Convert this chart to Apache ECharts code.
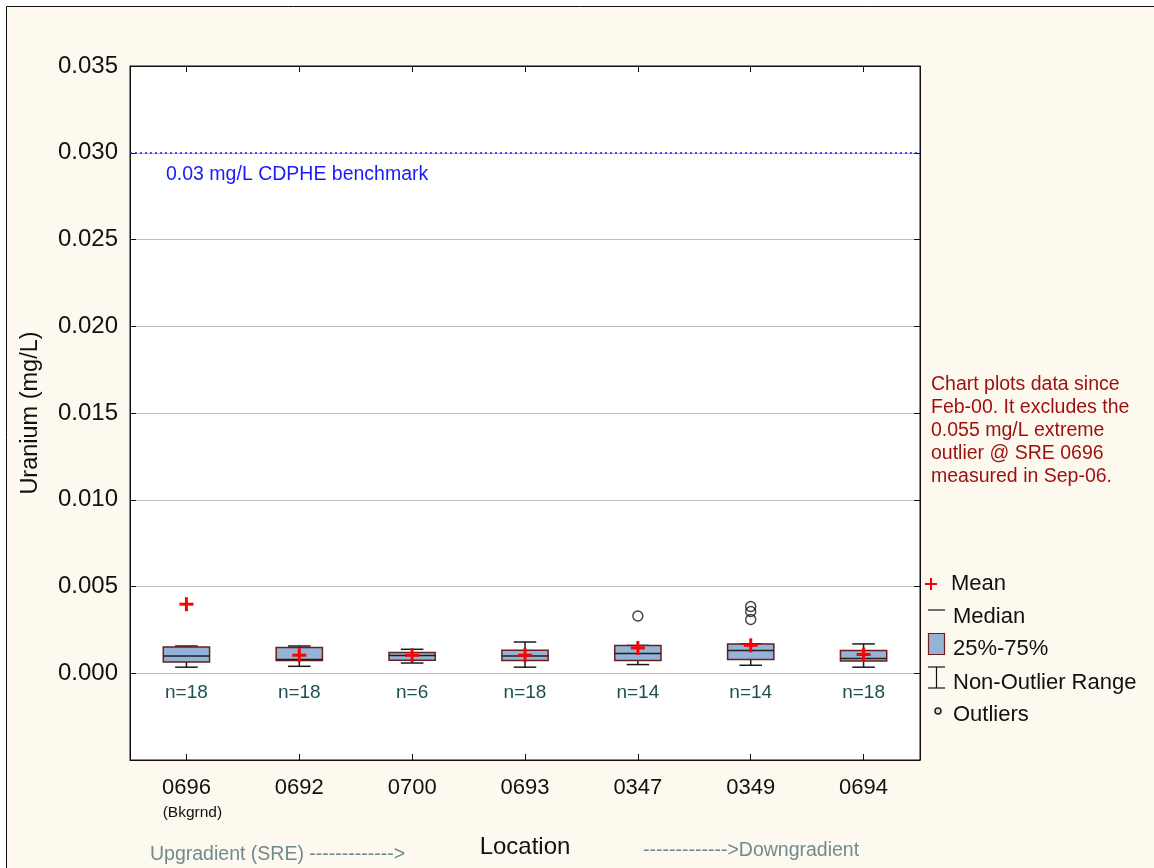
<!DOCTYPE html>
<html>
<head>
<meta charset="utf-8">
<script src="https://cdn.jsdelivr.net/npm/echarts@6/dist/echarts.min.js"></script>
<style>
  html, body { margin: 0; padding: 0; background: #ffffff; }
  #chart { width: 1154px; height: 868px; }
</style>
</head>
<body>
<div id="chart"></div>
<script>
// Uranium concentrations by monitoring location (mg/L)
const locations    = ['0696', '0692', '0700', '0693', '0347', '0349', '0694'];
const sampleCounts = [18, 18, 6, 18, 14, 14, 18];
const whiskerLow   = [0.00035, 0.00040, 0.00059, 0.00035, 0.00050, 0.00046, 0.00035];
const quartile1    = [0.00065, 0.00073, 0.00075, 0.00073, 0.00073, 0.00079, 0.00071];
const medians      = [0.00100, 0.00079, 0.00102, 0.00100, 0.00114, 0.00131, 0.00085];
const quartile3    = [0.00152, 0.00148, 0.00119, 0.00133, 0.00160, 0.00169, 0.00131];
const whiskerHigh  = [0.00157, 0.00157, 0.00138, 0.00180, 0.00160, 0.00169, 0.00169];
const means        = [0.00398, 0.00104, 0.00104, 0.00104, 0.00146, 0.00161, 0.00108];
// outliers: [location index, value]
const outliers     = [[4, 0.00330], [5, 0.00385], [5, 0.00356], [5, 0.00310]];
const benchmark    = 0.03;
const yTicks       = { min: -0.005, max: 0.035, step: 0.005 };

const FONT = '"Liberation Sans", Arial, sans-serif';

const boxData = locations.map((_, i) =>
  [i, whiskerLow[i], quartile1[i], medians[i], quartile3[i], whiskerHigh[i]]);
const meanData = means.map((v, i) => [i, v]);
const countData = sampleCounts.map((n, i) => [i, -0.00115, n]);

function renderBox(params, api) {
  const i = api.value(0);
  const x = api.coord([i, 0])[0];
  const yLo = api.coord([i, api.value(1)])[1];
  const yQ1 = api.coord([i, api.value(2)])[1];
  const yMed = api.coord([i, api.value(3)])[1];
  const yQ3 = api.coord([i, api.value(4)])[1];
  const yHi = api.coord([i, api.value(5)])[1];
  const band = api.size([1, 0])[0];
  const hw = band * 0.205;
  const cw = band * 0.1;
  const wStyle = { stroke: '#1a1a1a', lineWidth: 1.5 };
  return {
    type: 'group',
    children: [
      { type: 'line', shape: { x1: x, y1: yHi, x2: x, y2: yLo }, style: wStyle },
      { type: 'line', shape: { x1: x - cw, y1: yHi, x2: x + cw, y2: yHi }, style: wStyle },
      { type: 'line', shape: { x1: x - cw, y1: yLo, x2: x + cw, y2: yLo }, style: wStyle },
      { type: 'rect', shape: { x: x - hw, y: yQ3, width: hw * 2, height: yQ1 - yQ3 },
        style: { fill: '#95b3d7', stroke: '#6b1e1e', lineWidth: 1.5 } },
      { type: 'line', shape: { x1: x - hw, y1: yMed, x2: x + hw, y2: yMed },
        style: { stroke: '#1f1f1f', lineWidth: 1.5 } }
    ]
  };
}

function renderMean(params, api) {
  const p = api.coord([api.value(0), api.value(1)]);
  const s = 7;
  const st = { stroke: '#ff0000', lineWidth: 3 };
  return {
    type: 'group',
    children: [
      { type: 'line', shape: { x1: p[0] - s, y1: p[1], x2: p[0] + s, y2: p[1] }, style: st },
      { type: 'line', shape: { x1: p[0], y1: p[1] - s, x2: p[0], y2: p[1] + s }, style: st }
    ]
  };
}

function renderCount(params, api) {
  const p = api.coord([api.value(0), api.value(1)]);
  return {
    type: 'text',
    x: p[0], y: p[1],
    style: { text: 'n=' + api.value(2), fill: '#1e4f50', font: '19px ' + FONT,
             align: 'center', verticalAlign: 'middle' }
  };
}

const chart = echarts.init(document.getElementById('chart'), null, { renderer: 'canvas' });

const legendX = 928;
const legendTextX = 953;
const legendFont = '22px ' + FONT;

chart.setOption({
  backgroundColor: '#ffffff',
  animation: false,
  graphic: [
    { type: 'rect', z: -10, shape: { x: 6.5, y: 6.5, width: 1300, height: 1000 },
      style: { fill: '#fdf9ef', stroke: '#111', lineWidth: 1 } },
    // note beside the plot
    { type: 'text', left: 931, top: 373,
      style: { text: 'Chart plots data since\nFeb-00. It excludes the\n0.055 mg/L extreme\noutlier @ SRE 0696\nmeasured in Sep-06.',
               fill: '#9c0f0f', font: '19.5px ' + FONT, lineHeight: 23 } },
    // key
    { type: 'group', children: [
      { type: 'line', shape: { x1: legendX - 3, y1: 584, x2: legendX + 9, y2: 584 }, style: { stroke: '#ff0000', lineWidth: 2 } },
      { type: 'line', shape: { x1: legendX + 3, y1: 578, x2: legendX + 3, y2: 590 }, style: { stroke: '#ff0000', lineWidth: 2 } },
      { type: 'text', x: legendTextX - 2, y: 584, style: { text: 'Mean', fill: '#111', font: legendFont, verticalAlign: 'middle' } },
      { type: 'line', shape: { x1: legendX, y1: 610, x2: legendX + 17, y2: 610 }, style: { stroke: '#111', lineWidth: 1.2 } },
      { type: 'text', x: legendTextX, y: 617, style: { text: 'Median', fill: '#111', font: legendFont, verticalAlign: 'middle' } },
      { type: 'rect', shape: { x: legendX + 0.5, y: 633.5, width: 16, height: 21 }, style: { fill: '#95b3d7', stroke: '#6b1e1e', lineWidth: 1.2 } },
      { type: 'text', x: legendTextX, y: 649, style: { text: '25%-75%', fill: '#111', font: legendFont, verticalAlign: 'middle' } },
      { type: 'line', shape: { x1: legendX, y1: 667, x2: legendX + 17, y2: 667 }, style: { stroke: '#111', lineWidth: 1.2 } },
      { type: 'line', shape: { x1: legendX, y1: 688, x2: legendX + 17, y2: 688 }, style: { stroke: '#111', lineWidth: 1.2 } },
      { type: 'line', shape: { x1: legendX + 8.5, y1: 667, x2: legendX + 8.5, y2: 688 }, style: { stroke: '#111', lineWidth: 1.2 } },
      { type: 'text', x: legendTextX, y: 683, style: { text: 'Non-Outlier Range', fill: '#111', font: legendFont, verticalAlign: 'middle' } },
      { type: 'circle', shape: { cx: legendX + 10, cy: 711, r: 3 }, style: { fill: '#ddd', stroke: '#222', lineWidth: 1.5 } },
      { type: 'text', x: legendTextX, y: 715, style: { text: 'Outliers', fill: '#111', font: legendFont, verticalAlign: 'middle' } }
    ]},
    // gradient direction notes
    { type: 'text', left: 150, top: 845,
      style: { text: 'Upgradient (SRE) ------------->', fill: '#6f8b90', font: '19.5px ' + FONT } },
    { type: 'text', left: 643, top: 841,
      style: { text: '------------->Downgradient', fill: '#6f8b90', font: '19.5px ' + FONT } }
  ],
  grid: {
    left: 130, right: 234, top: 66, bottom: 108,
    show: true, backgroundColor: '#ffffff', borderColor: '#111', borderWidth: 1
  },
  xAxis: [
    {
      type: 'category', data: locations, position: 'bottom',
      boundaryGap: true,
      axisLine: { show: true, onZero: false, lineStyle: { color: '#111' } },
      axisTick: { show: true, inside: true, alignWithLabel: true, length: 6, lineStyle: { color: '#111' } },
      axisLabel: {
        margin: 14,
        formatter: (v, i) => i === 0 ? '{a|' + v + '}\n{b|(Bkgrnd)}' : '{a|' + v + '}',
        rich: {
          a: { fontFamily: FONT, fontSize: 22, color: '#111', lineHeight: 28 },
          b: { fontFamily: FONT, fontSize: 15.5, color: '#111', lineHeight: 22, padding: [0, 0, 0, 12] }
        }
      },
      name: 'Location', nameLocation: 'middle', nameGap: 75,
      nameTextStyle: { fontFamily: FONT, fontSize: 24, color: '#111' },
      splitLine: { show: false }
    },
    {
      type: 'category', data: locations, position: 'top',
      boundaryGap: true,
      axisLine: { show: true, onZero: false, lineStyle: { color: '#111' } },
      axisTick: { show: true, inside: true, alignWithLabel: true, length: 6, lineStyle: { color: '#111' } },
      axisLabel: { show: false },
      splitLine: { show: false }
    }
  ],
  yAxis: [
    {
      type: 'value', min: yTicks.min, max: yTicks.max, interval: yTicks.step,
      axisLine: { show: true, lineStyle: { color: '#111' } },
      axisTick: { show: true, inside: true, length: 6, lineStyle: { color: '#111' } },
      axisLabel: { formatter: v => v.toFixed(3), showMinLabel: false,
                   fontFamily: FONT, fontSize: 24, color: '#111', margin: 12 },
      splitLine: { show: true, lineStyle: { color: '#bfbfbf', width: 1 } },
      name: 'Uranium (mg/L)', nameLocation: 'middle', nameGap: 87, nameRotate: 90,
      nameTextStyle: { fontFamily: FONT, fontSize: 23.5, color: '#111' }
    },
    {
      type: 'value', min: yTicks.min, max: yTicks.max, interval: yTicks.step, position: 'right',
      axisLine: { show: true, lineStyle: { color: '#111' } },
      axisTick: { show: true, inside: true, length: 6, lineStyle: { color: '#111' } },
      axisLabel: { show: false },
      splitLine: { show: false }
    }
  ],
  series: [
    {
      name: 'benchmark', type: 'line', data: [], xAxisIndex: 0, yAxisIndex: 0,
      markLine: {
        silent: true, symbol: 'none',
        lineStyle: { color: '#1a1aff', type: [2, 3], width: 1.5 },
        label: {
          show: true, position: 'insideStartBottom', distance: [36, 12],
          formatter: '0.03 mg/L CDPHE benchmark',
          color: '#1a1aff', fontFamily: FONT, fontSize: 19.5
        },
        data: [{ yAxis: benchmark }]
      }
    },
    {
      name: 'box', type: 'custom', renderItem: renderBox, data: boxData,
      encode: { x: 0, y: [1, 2, 3, 4, 5] }, z: 3
    },
    {
      name: 'outliers', type: 'scatter', data: outliers,
      symbol: 'circle', symbolSize: 10,
      itemStyle: { color: 'rgba(255,255,255,0)', borderColor: '#111', borderWidth: 1.4 }, z: 4
    },
    {
      name: 'mean', type: 'custom', renderItem: renderMean, data: meanData,
      encode: { x: 0, y: 1 }, z: 5
    },
    {
      name: 'count', type: 'custom', renderItem: renderCount, data: countData,
      encode: { x: 0, y: 1 }, z: 5
    }
  ]
});
</script>
</body>
</html>
